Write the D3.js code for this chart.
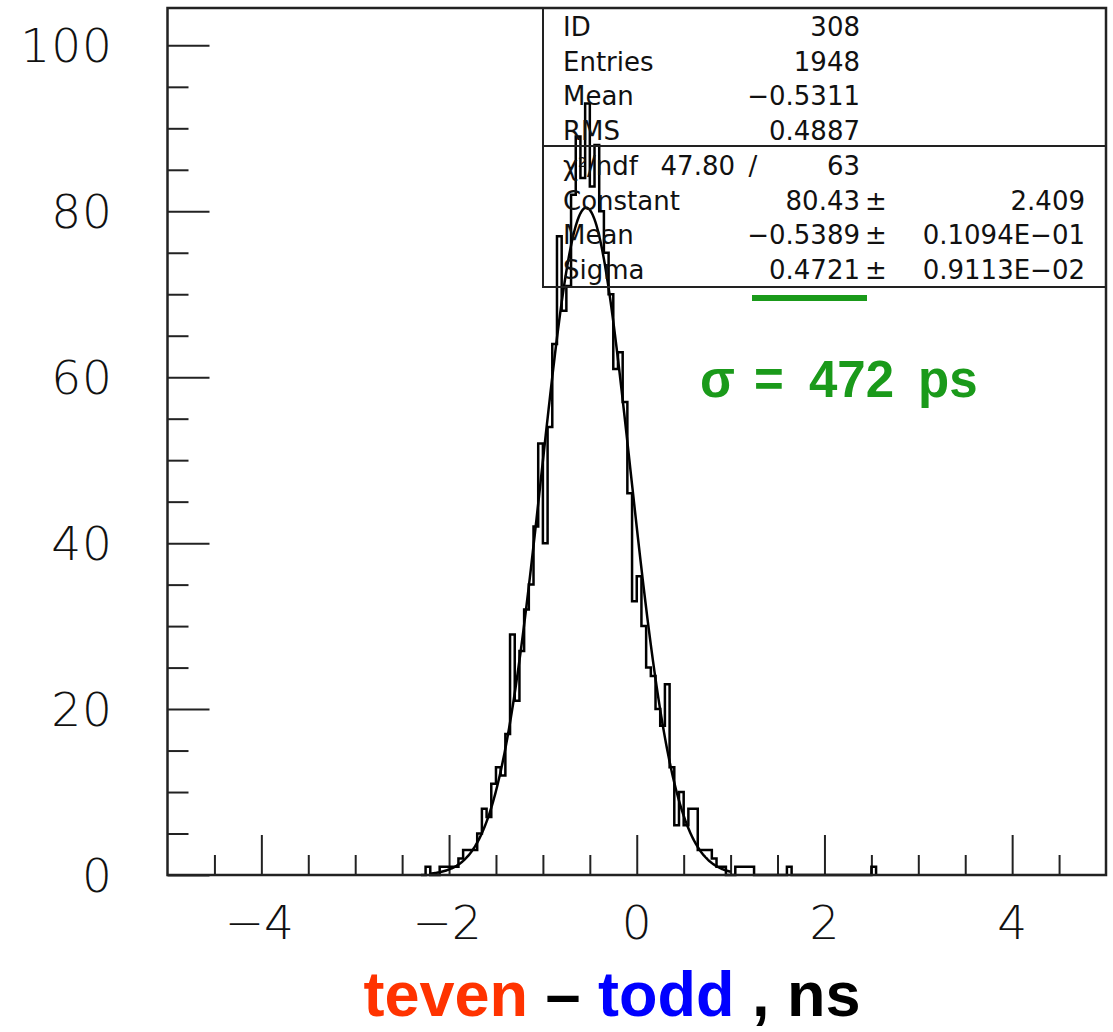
<!DOCTYPE html>
<html>
<head>
<meta charset="utf-8">
<script src="https://cdn.jsdelivr.net/npm/d3@7"></script>
<style>
  body { margin: 0; background: #fff; }
</style>
</head>
<body>
<div id="root"></div>
<script>
// histogram: 0.05 wide bins starting at -2.30
const binStart = -2.30;
const binWidth = 0.05;
const counts = [
  0, 1, 0, 0, 1, 1, 1, 1, 2, 3,          // -2.30 .. -1.85
  3, 3, 5, 8, 7, 11, 13, 12, 17, 29,     // -1.80 .. -1.35
  21, 27, 32, 35, 42, 52, 40, 54, 64, 77,// -1.30 .. -0.85
  68, 71, 82, 89, 84, 93, 83, 88, 80, 75,// -0.80 .. -0.35
  70, 61, 63, 57, 46, 33, 36, 30, 25, 24,// -0.30 .. 0.15
  20, 18, 23, 13, 6, 10, 6, 8, 8, 3,     // 0.20 .. 0.65
  3, 3, 2, 1, 1, 0, 0, 1, 1, 1,          // 0.70 .. 1.15
  1, 0, 0, 0, 0, 0, 0, 0, 1, 0,          // 1.20 .. 1.65
  0, 0, 0, 0, 0, 0, 0, 0, 0, 0,          // 1.70 .. 2.15
  0, 0, 0, 0, 0, 0, 1                    // 2.20 .. 2.50
];

const xTicksMajor = [-4, -2, 0, 2, 4];
const yTicksMajor = [0, 20, 40, 60, 80, 100];

const statsRows = [["ID", "308"], ["Entries", "1948"], ["Mean", "\u22120.5311"], ["RMS", "0.4887"]];
const chi2 = ["47.80", "63"];
const fitRows = [["Constant", "80.43", "2.409"],
                 ["Mean", "\u22120.5389", "0.1094E\u221201"],
                 ["Sigma", "0.4721", "0.9113E\u221202"]];
const fitParams = [80.43, -0.5389, 0.4721];
const fitRange = [-2.2, 1.0];

const outerWidth = 1113;
const outerHeight = 1032;
const frame = { left: 167.5, right: 1106, top: 8, bottom: 875 };

let x = d3.scaleLinear().domain([-5, 5]).range([frame.left, frame.right]);
let y = d3.scaleLinear().domain([0, 104.5]).range([frame.bottom, frame.top]);

let svg = d3.select("#root")
  .append("svg")
  .attr("width", outerWidth)
  .attr("height", outerHeight)
  .style("font-family", "'DejaVu Sans', sans-serif");

const ink = "#222";
const boldFont = "'Liberation Sans', Arial, sans-serif";

// ticks inside the frame
let yAxis = d3.axisRight(y).tickValues(d3.range(0, 101, 5)).tickSize(21).tickFormat("");
let gy = svg.append("g").attr("transform", `translate(${frame.left},0)`).call(yAxis);
gy.selectAll(".tick line").filter(d => d % 20 === 0).attr("x2", 42);
let xAxis = d3.axisTop(x).tickValues(d3.range(-4.5, 5, 0.5)).tickSize(20).tickFormat("");
let gx = svg.append("g").attr("transform", `translate(0,${frame.bottom})`).call(xAxis);
gx.selectAll(".tick line").filter(d => Math.abs(d % 2) < 1e-9).attr("y2", -40);
svg.selectAll(".domain").remove();
svg.selectAll(".tick line").attr("stroke", ink).attr("stroke-width", 2);

// tick labels
svg.append("g").selectAll("text").data(yTicksMajor).enter().append("text")
  .attr("x", 113).attr("y", d => y(d) + 17)
  .attr("text-anchor", "end")
  .attr("font-size", 47).attr("font-weight", 200).attr("letter-spacing", 1)
  .attr("fill", "#111")
  .text(d => d);

svg.append("g").selectAll("text").data(xTicksMajor).enter().append("text")
  .attr("x", d => x(d) + (d < 0 ? -2 : 0)).attr("y", 939)
  .attr("text-anchor", "middle")
  .attr("font-size", 47).attr("font-weight", 200)
  .attr("fill", "#111")
  .text(d => d < 0 ? "\u2212" + Math.abs(d) : d);

// histogram outline
let pts = [[binStart, 0]];
counts.forEach((c, i) => pts.push([binStart + i * binWidth, c]));
pts.push([binStart + counts.length * binWidth, 0]);

let stepLine = d3.line().x(d => x(d[0])).y(d => y(d[1])).curve(d3.curveStepAfter);
svg.append("path").datum(pts)
  .attr("d", stepLine)
  .attr("fill", "none").attr("stroke", "#000").attr("stroke-width", 2.5);

// gaussian fit curve
let gauss = v => fitParams[0] * Math.exp(-0.5 * Math.pow((v - fitParams[1]) / fitParams[2], 2));
let fitPts = d3.range(fitRange[0], fitRange[1] + 0.001, 0.01).map(v => [v, gauss(v)]);
svg.append("path").datum(fitPts)
  .attr("d", d3.line().x(d => x(d[0])).y(d => y(d[1])))
  .attr("fill", "none").attr("stroke", "#000").attr("stroke-width", 2.5);

// frame
svg.append("rect")
  .attr("x", frame.left).attr("y", frame.top)
  .attr("width", frame.right - frame.left).attr("height", frame.bottom - frame.top)
  .attr("fill", "none").attr("stroke", ink).attr("stroke-width", 2.5);

// stats box
const box = { left: 543, right: 1106, top: 8, mid: 146, bottom: 287 };
svg.append("rect")
  .attr("x", box.left).attr("y", box.top)
  .attr("width", box.right - box.left).attr("height", box.bottom - box.top)
  .attr("fill", "none").attr("stroke", ink).attr("stroke-width", 2);
svg.append("line")
  .attr("x1", box.left).attr("x2", box.right).attr("y1", box.mid).attr("y2", box.mid)
  .attr("stroke", ink).attr("stroke-width", 2);

let stats = svg.append("g").attr("font-size", 26).attr("fill", "#111");
const rowY = i => 36 + i * 34.7;

statsRows.forEach((r, i) => {
  stats.append("text").attr("x", 563).attr("y", rowY(i)).text(r[0]);
  stats.append("text").attr("x", 860).attr("y", rowY(i)).attr("text-anchor", "end").text(r[1]);
});

let chiText = stats.append("text").attr("x", 563).attr("y", rowY(4));
chiText.append("tspan").text("\u03c7");
chiText.append("tspan").attr("dy", -8).attr("font-size", 14).text("2");
chiText.append("tspan").attr("dy", 8).text("/ndf");
stats.append("text").attr("x", 735).attr("y", rowY(4)).attr("text-anchor", "end").text(chi2[0]);
stats.append("text").attr("x", 753).attr("y", rowY(4)).attr("text-anchor", "middle").text("/");
stats.append("text").attr("x", 860).attr("y", rowY(4)).attr("text-anchor", "end").text(chi2[1]);

fitRows.forEach((r, i) => {
  let yy = rowY(5 + i);
  stats.append("text").attr("x", 563).attr("y", yy).text(r[0]);
  stats.append("text").attr("x", 860).attr("y", yy).attr("text-anchor", "end").text(r[1]);
  stats.append("text").attr("x", 865).attr("y", yy).text("\u00b1");
  stats.append("text").attr("x", 1085).attr("y", yy).attr("text-anchor", "end").text(r[2]);
});

// sigma annotation
svg.append("line")
  .attr("x1", 752).attr("x2", 867).attr("y1", 298).attr("y2", 298)
  .attr("stroke", "#1a9a1a").attr("stroke-width", 6);
let sig = svg.append("text")
  .attr("y", 397)
  .style("font-family", boldFont)
  .attr("font-size", 51).attr("font-weight", "bold")
  .attr("fill", "#1a9a1a");
sig.append("tspan").attr("x", 700).text("\u03c3");
sig.append("tspan").attr("x", 754).text("=");
sig.append("tspan").attr("x", 809).text("472");
sig.append("tspan").attr("x", 918).text("ps");

// axis title
let title = svg.append("text")
  .attr("x", 612).attr("y", 1016)
  .attr("text-anchor", "middle")
  .style("font-family", boldFont)
  .attr("font-size", 63).attr("font-weight", "bold");
title.append("tspan").attr("fill", "#ff3300").text("teven");
title.append("tspan").attr("fill", "#000").text(" \u2013 ");
title.append("tspan").attr("fill", "#0000ff").text("todd");
title.append("tspan").attr("fill", "#000").text(" , ns");
</script>
</body>
</html>
